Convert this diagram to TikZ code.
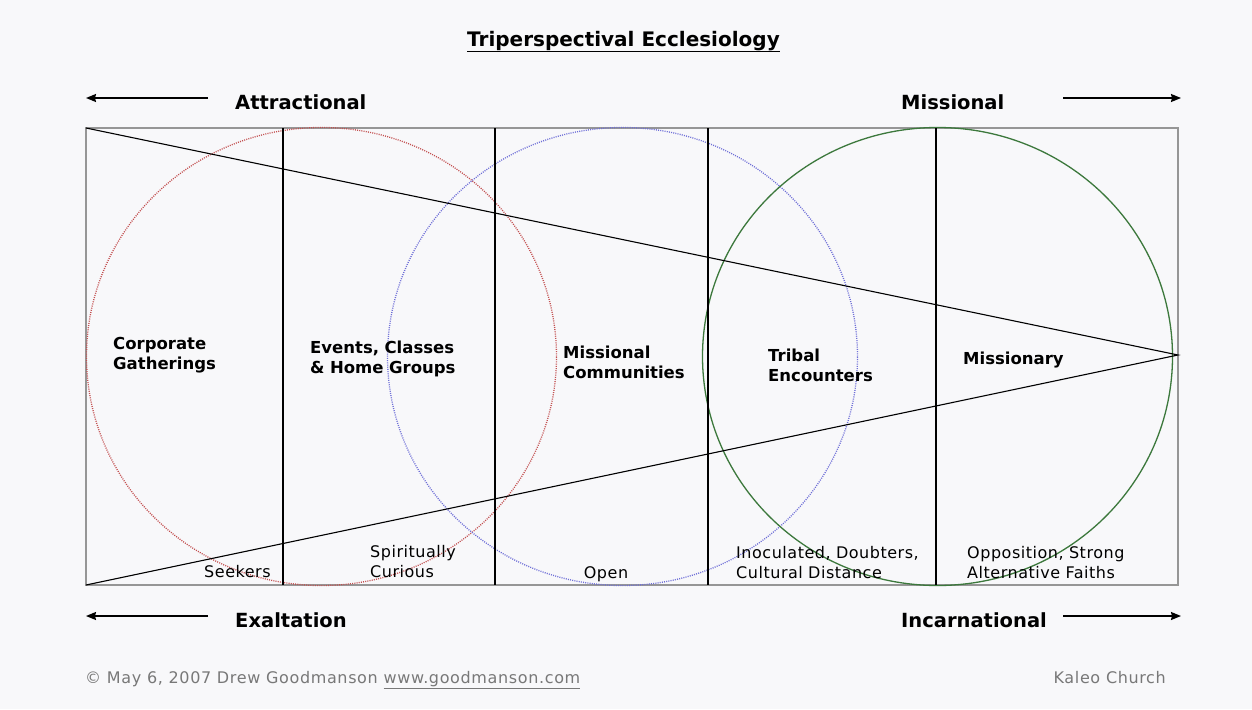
\documentclass[tikz,border=0pt]{standalone}
\usepackage{fontspec}
\setmainfont{DejaVu Sans}
\newfontfamily\notefont[LetterSpace=3.3]{DejaVu Sans}
\newfontfamily\footfont[LetterSpace=4]{DejaVu Sans}
\usetikzlibrary{arrows.meta}
\definecolor{bg}{RGB}{248,248,250}
\definecolor{framegray}{RGB}{150,150,150}
\definecolor{ringred}{RGB}{195,80,80}
\definecolor{ringblue}{RGB}{110,110,215}
\definecolor{ringgreen}{RGB}{60,120,60}
\definecolor{footgray}{RGB}{120,120,120}
\begin{document}
\begin{tikzpicture}[x=1pt,y=-1pt,
  heading/.style={font=\fontsize{19.5}{23}\selectfont\bfseries, inner sep=0, anchor=base west},
  zone/.style={font=\fontsize{16.5}{20.5}\selectfont\bfseries, inner sep=0, anchor=base west,
               align=left, text width=170pt},
  note/.style={font=\notefont\fontsize{16}{20}\selectfont, inner sep=0, anchor=base west,
               align=left, text width=220pt},
  foot/.style={font=\footfont\fontsize{16}{19}\selectfont, text=footgray, inner sep=0, anchor=base west},
  dirarrow/.style={line width=1.5pt, -{Stealth[length=10pt,width=8pt,inset=1pt]}},
  divider/.style={line width=1.1pt, black},
  wedge/.style={line width=1.1pt, black},
  ring/.style={x radius=235pt, y radius=229pt}
]
% canvas
\fill[bg] (0,0) rectangle (1252,709);
\useasboundingbox (0,0) rectangle (1252,709);

% title
\node[inner sep=0, anchor=base, font=\fontsize{20}{24}\selectfont\bfseries] (title) at (623.5,47) {Triperspectival Ecclesiology};
\draw[line width=1.8pt] ([yshift=-4.5pt]title.base west) -- ([yshift=-4.5pt]title.base east);

% frame corners and apex
\coordinate (tl) at (86,128);
\coordinate (br) at (1178,585);
\coordinate (bl) at (86,585);
\coordinate (apex) at (1178,355);
\draw[framegray, line width=1.4pt] (tl) rectangle (br);

% the three overlapping rings
\draw[ringred, line width=1.3pt, dash pattern=on 1pt off 1.2pt] (321.5,356.5) ellipse [ring];
\draw[ringblue, line width=1.3pt, dash pattern=on 1pt off 1.2pt] (622.5,356.5) ellipse [ring];
\draw[ringgreen, line width=1.3pt] (937.5,356.5) ellipse [ring];

% column dividers
\foreach \x/\n in {283/a,495/b,708/c,936/d} {
  \coordinate (top\n) at (\x,128);
  \coordinate (bot\n) at (\x,585);
  \draw[divider] (top\n) -- (bot\n);
}

% wedge narrowing towards the right
\draw[wedge] (tl) -- (apex) -- (bl);

% direction arrows
\coordinate (atS) at (208,98);  \coordinate (atE) at (86,98);
\coordinate (miS) at (1063,98); \coordinate (miE) at (1181,98);
\coordinate (exS) at (208,616); \coordinate (exE) at (86,616);
\coordinate (inS) at (1063,616);\coordinate (inE) at (1181,616);
\draw[dirarrow] (atS) -- (atE);
\draw[dirarrow] (miS) -- (miE);
\draw[dirarrow] (exS) -- (exE);
\draw[dirarrow] (inS) -- (inE);

\node[heading] (attr) at (235,109) {Attractional};
\node[heading] (miss) at (901,109) {Missional};
\node[heading] (exal) at (235,627) {Exaltation};
\node[heading] (inca) at (901,627) {Incarnational};

% zone labels
\node[zone] (corp) at (113,349) {Corporate\\Gatherings};
\node[zone] (evts) at (310,353) {Events, Classes\\\& Home Groups};
\node[zone] (mcom) at (563,358) {Missional\\Communities};
\node[zone] (trib) at (768,361) {Tribal\\Encounters};
\node[zone] (mary) at (963,364) {Missionary};

% audience notes
\node[note] (seek) at (204,577) {Seekers};
\node[note] (spir) at (370,557) {Spiritually\\Curious};
\node[note, anchor=base, text width=] (open) at (606,578) {Open};
\node[note] (inoc) at (736,558) {Inoculated, Doubters,\\Cultural Distance};
\node[note] (oppo) at (967,558) {Opposition, Strong\\Alternative Faiths};

% footer
\node[foot] (credit) at (85,683) {© May 6, 2007 Drew Goodmanson \underline{www.goodmanson.com}};
\node[foot, anchor=base east] (kaleo) at (1166,683) {Kaleo Church};
\end{tikzpicture}
\end{document}
